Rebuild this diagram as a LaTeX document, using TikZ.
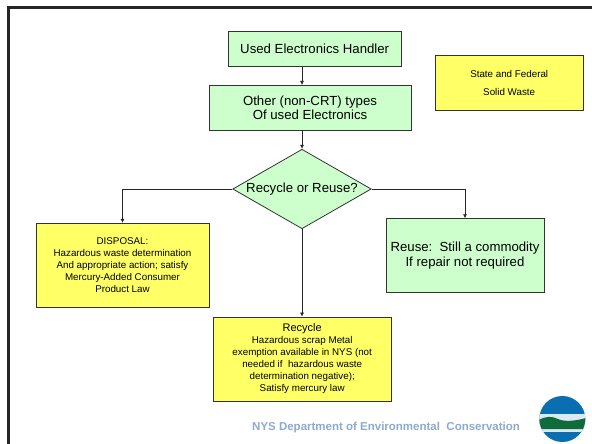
\documentclass[tikz,border=0pt]{standalone}
\usepackage{fontspec}
\setmainfont{Liberation Sans}
\usetikzlibrary{arrows.meta,shapes.geometric}
\definecolor{boxgreen}{HTML}{CCFFCC}
\definecolor{boxyellow}{HTML}{FFFF66}
\definecolor{footblue}{HTML}{8FAAD0}
\definecolor{logoblue}{HTML}{0A6FB0}
\definecolor{logogreen}{HTML}{0F6B3A}
\tikzset{
 greenbox/.style={draw=black!80,fill=boxgreen,align=center,inner sep=0pt,font=\fontsize{13.2}{14.8}\selectfont,line width=.9pt},
 yellowbox/.style={draw=black!80,fill=boxyellow,align=center,inner sep=0pt,font=\fontsize{9.8}{12}\selectfont,line width=.9pt},
 link/.style={-{Latex[length=4pt,width=4pt]},line width=.6pt,draw=black!85}
}
\begin{document}
\begin{tikzpicture}[x=1pt,y=-1pt]
\useasboundingbox (0,0) rectangle (592,444);
\fill[white] (0,0) rectangle (592,444);
\draw[line width=3pt,black!85] (8,444) -- (8,8) -- (592,8);
\node[greenbox,minimum width=172.5pt,minimum height=34.5pt] (handler) at (314.7,49) {Used Electronics Handler};
\node[greenbox,minimum width=202pt,minimum height=44.5pt] (other) at (310,107.7) {Other (non-CRT) types\\Of used Electronics};
\node[diamond,aspect=1.75,draw=black!80,fill=boxgreen,inner sep=0pt,minimum width=138.5pt,minimum height=79.5pt,line width=.8pt,font=\fontsize{13.2}{15}\selectfont] (choice) at (302,189) {Recycle or Reuse?};
\node[yellowbox,minimum width=148pt,minimum height=54.5pt,font=\fontsize{9.8}{18}\selectfont] (state) at (509.2,83) {State and Federal\\Solid Waste};
\node[yellowbox,minimum width=173pt,minimum height=84pt] (disposal) at (122.5,265.3) {DISPOSAL:\\Hazardous waste determination\\And appropriate action; satisfy\\Mercury-Added Consumer\\Product Law};
\node[yellowbox,minimum width=177.5pt,minimum height=84pt] (recycle) at (302.2,359) {{\fontsize{11}{12}\selectfont Recycle}\\Hazardous scrap Metal\\exemption available in NYS (not\\needed if\ \ hazardous waste\\determination negative);\\Satisfy mercury law};
\node[greenbox,minimum width=158pt,minimum height=73.6pt] (reuse) at (465,255.5) {Reuse:\ \ Still a commodity\\If repair not required};
\draw[link] (choice.north |- handler.south) -- (choice.north |- other.north);
\draw[link] (choice.north |- other.south) -- (choice.north);
\draw[link] (choice.west) -| (disposal.north);
\draw[link] (choice.east) -| (reuse.north);
\draw[link] (choice.south) -- (choice.south |- recycle.north);
\node[anchor=west,inner sep=0pt,text=footblue,font=\fontsize{11.5}{13}\selectfont\bfseries] (footer) at (252,428) {NYS Department of Environmental\ \ Conservation};
% logo
\begin{scope}
\clip (562.3,419) circle (23pt);
\fill[logoblue] (539,396) rectangle (586,443);
\fill[white!85!logoblue] (539,414) rectangle (586,432);
\fill[logogreen] (539,420) .. controls (546,416) and (552,416) .. (558,419) .. controls (564,422) and (576,421) .. (586,418) -- (586,429) -- (539,429) -- cycle;
\end{scope}
\node[inner sep=0pt,minimum size=46pt,circle] (logo) at (562.3,419) {};
\end{tikzpicture}
\end{document}
